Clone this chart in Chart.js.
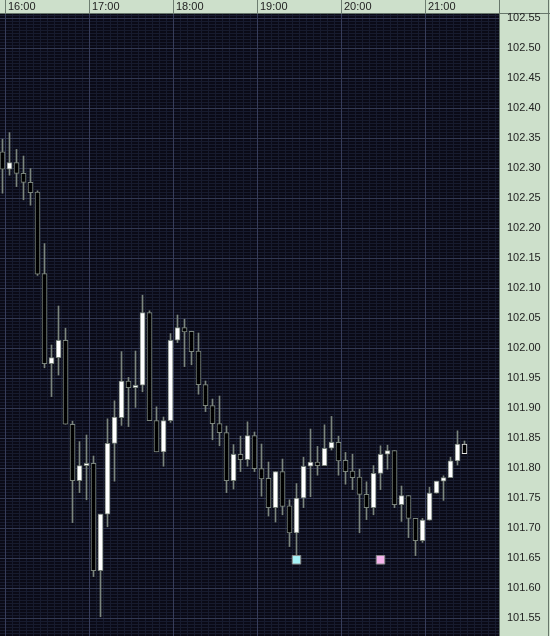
<!DOCTYPE html>
<html>
<head>
<meta charset="utf-8">
<script src="https://cdn.jsdelivr.net/npm/chart.js@4.4.0/dist/chart.umd.min.js"></script>
<style>
  html, body { margin: 0; padding: 0; background: #0a0a16; }
  canvas { display: block; }
</style>
</head>
<body>
<canvas id="chart" width="550" height="636"></canvas>
<script>
// 5 minute candles
const open = [102.327, 102.298, 102.309, 102.291, 102.276, 102.260, 102.124, 101.974, 101.984, 102.013,
  101.873, 101.779, 101.804, 101.808, 101.629, 101.723, 101.841, 101.884, 101.945, 101.934,
  101.938, 102.059, 101.879, 101.827, 101.879, 102.013, 102.034, 102.028, 101.995, 101.939,
  101.904, 101.874, 101.859, 101.779, 101.823, 101.814, 101.854, 101.799, 101.783, 101.734,
  101.794, 101.737, 101.692, 101.750, 101.803, 101.810, 101.804, 101.833, 101.843, 101.813,
  101.795, 101.785, 101.756, 101.734, 101.791, 101.823, 101.829, 101.739, 101.754, 101.716,
  101.679, 101.713, 101.758, 101.778, 101.784, 101.812, 101.840];
const high = [102.348, 102.359, 102.331, 102.320, 102.299, 102.262, 102.174, 102.005, 102.070, 102.033,
  101.878, 101.844, 101.855, 101.820, 101.723, 101.882, 101.912, 101.994, 101.951, 101.995,
  102.088, 102.062, 101.902, 101.885, 102.024, 102.055, 102.048, 102.028, 102.025, 101.945,
  101.915, 101.920, 101.870, 101.839, 101.853, 101.877, 101.860, 101.840, 101.810, 101.794,
  101.815, 101.747, 101.774, 101.818, 101.865, 101.836, 101.872, 101.886, 101.853, 101.826,
  101.823, 101.798, 101.777, 101.804, 101.837, 101.838, 101.829, 101.770, 101.754, 101.716,
  101.716, 101.768, 101.778, 101.787, 101.818, 101.862, 101.845];
const low = [102.258, 102.288, 102.269, 102.247, 102.238, 102.121, 101.967, 101.919, 101.955, 101.873,
  101.709, 101.759, 101.747, 101.619, 101.552, 101.702, 101.778, 101.871, 101.869, 101.901,
  101.927, 101.879, 101.827, 101.803, 101.876, 102.009, 101.969, 101.972, 101.923, 101.894,
  101.847, 101.837, 101.759, 101.765, 101.794, 101.803, 101.794, 101.753, 101.720, 101.710,
  101.722, 101.669, 101.652, 101.734, 101.752, 101.788, 101.804, 101.830, 101.788, 101.773,
  101.764, 101.692, 101.714, 101.722, 101.764, 101.798, 101.734, 101.711, 101.684, 101.654,
  101.676, 101.713, 101.758, 101.746, 101.784, 101.805, 101.824];
const close = [102.298, 102.309, 102.291, 102.276, 102.259, 102.123, 101.974, 101.984, 102.013, 101.873,
  101.779, 101.804, 101.808, 101.629, 101.723, 101.841, 101.885, 101.945, 101.934, 101.938,
  102.059, 101.879, 101.827, 101.879, 102.013, 102.034, 102.027, 101.994, 101.939, 101.904,
  101.874, 101.859, 101.779, 101.823, 101.814, 101.854, 101.799, 101.782, 101.734, 101.794,
  101.736, 101.692, 101.750, 101.803, 101.810, 101.804, 101.833, 101.843, 101.812, 101.794,
  101.784, 101.756, 101.734, 101.791, 101.823, 101.829, 101.739, 101.754, 101.716, 101.679,
  101.713, 101.758, 101.778, 101.784, 101.812, 101.840, 101.824];

const hourLabels = ["16:00", "17:00", "18:00", "19:00", "20:00", "21:00"];
const hourPos = [0.5, 12.5, 24.5, 36.5, 48.5, 60.5];
const priceTicks = [102.55, 102.50, 102.45, 102.40, 102.35, 102.30, 102.25, 102.20, 102.15, 102.10,
  102.05, 102.00, 101.95, 101.90, 101.85, 101.80, 101.75, 101.70, 101.65, 101.60, 101.55];

// the two square markers under the bars
const markerIdx = [42, 54];
const markerVal = [101.647, 101.647];
const markerFill = ["#a6f2f6", "#f6b4ec"];

const xMin = -0.357, xMax = -0.357 + 499 / 7;
const yMin = 101.52, yMax = 102.5567;
const font = { family: "'Liberation Sans', Arial, sans-serif", size: 11 };

const idx = open.map((_, i) => i);
const minorX = [];
for (let v = 0.5; v < xMax; v += 1) minorX.push(v);
const minorY = [];
for (let v = 101.525; v < yMax; v += 0.005) minorY.push(+v.toFixed(3));

const noPad = (s) => { s.paddingLeft = s.paddingRight = s.paddingTop = s.paddingBottom = 0; };

const panels = {
  id: "panels",
  beforeDraw(chart) {
    const { ctx, chartArea: a, width, height } = chart;
    ctx.save();
    ctx.fillStyle = "#0a0a16";
    ctx.fillRect(0, 0, width, height);
    ctx.fillStyle = "#cde0cb";
    ctx.fillRect(0, 0, width, a.top);
    ctx.fillRect(a.right, 0, width - a.right, height);
    ctx.strokeStyle = "#66766a";
    ctx.lineWidth = 1;
    ctx.beginPath();
    ctx.moveTo(0, a.top - 0.5);
    ctx.lineTo(width, a.top - 0.5);
    ctx.moveTo(a.right + 0.5, 0);
    ctx.lineTo(a.right + 0.5, height);
    ctx.moveTo(width - 1.5, 0);
    ctx.lineTo(width - 1.5, height);
    ctx.stroke();
    ctx.restore();
  },
};

new Chart(document.getElementById("chart"), {
  type: "bar",
  data: {
    datasets: [
      {
        label: "wick",
        data: idx.map((i) => ({ x: i, y: [low[i], high[i]] })),
        backgroundColor: "#7b857d",
        barThickness: 1,
        grouped: false,
        order: 2,
      },
      {
        label: "body",
        data: idx.map((i) => ({ x: i, y: [open[i], close[i]] })),
        backgroundColor: (c) => (close[c.dataIndex] > open[c.dataIndex] ? "#ffffff" : "#000000"),
        borderColor: (c) => (c.dataIndex === open.length - 1 ? "#e6e6e6" : "#7b857d"),
        borderWidth: 1,
        borderSkipped: false,
        barThickness: 5,
        minBarLength: 2,
        grouped: false,
        order: 1,
      },
      {
        type: "scatter",
        label: "marks",
        data: markerIdx.map((x, i) => ({ x: x, y: markerVal[i] })),
        pointStyle: "rect",
        pointRadius: 6,
        backgroundColor: markerFill,
        borderColor: "#8a8a8a",
        borderWidth: 1,
        order: 0,
      },
    ],
  },
  options: {
    responsive: false,
    animation: false,
    layout: { padding: 0, autoPadding: false },
    plugins: { legend: { display: false }, tooltip: { enabled: false } },
    scales: {
      x: {
        type: "linear",
        position: "top",
        min: xMin,
        max: xMax,
        offset: false,
        afterBuildTicks: (s) => { s.ticks = hourPos.map((v) => ({ value: v })); },
        afterFit: (s) => { s.height = 14; noPad(s); },
        grid: { offset: false, color: "#373d5a", tickColor: "#6d7d70", tickLength: 14, z: -1 },
        border: { display: false },
        ticks: {
          align: "start",
          labelOffset: 2,
          padding: -13.5,
          autoSkip: false,
          maxRotation: 0,
          color: "#222222",
          font: font,
          callback: (v, i) => hourLabels[i],
        },
      },
      xm: {
        type: "linear",
        position: "top",
        min: xMin,
        max: xMax,
        offset: false,
        afterBuildTicks: (s) => { s.ticks = minorX.map((v) => ({ value: v })); },
        afterFit: (s) => { s.height = 0; noPad(s); },
        grid: { offset: false, color: "#171b2e", drawTicks: false, z: -2 },
        border: { display: false },
        ticks: { display: false },
      },
      y: {
        type: "linear",
        position: "right",
        min: yMin,
        max: yMax,
        afterBuildTicks: (s) => { s.ticks = priceTicks.map((v) => ({ value: v })); },
        afterFit: (s) => { s.width = 51; noPad(s); },
        grid: { color: "#323852", drawTicks: false, z: -1 },
        border: { display: false },
        ticks: { padding: 8, color: "#222222", font: font, callback: (v) => v.toFixed(2) },
      },
      ym: {
        type: "linear",
        position: "right",
        min: yMin,
        max: yMax,
        afterBuildTicks: (s) => { s.ticks = minorY.map((v) => ({ value: v })); },
        afterFit: (s) => { s.width = 0; noPad(s); },
        grid: { color: "#171b2e", drawTicks: false, z: -2 },
        border: { display: false },
        ticks: { display: false },
      },
    },
  },
  plugins: [panels],
});
</script>
</body>
</html>
